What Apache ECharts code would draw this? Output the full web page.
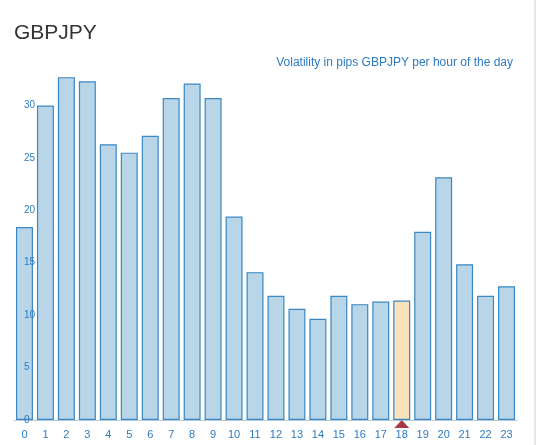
<!DOCTYPE html>
<html>
<head>
<meta charset="utf-8">
<script src="https://cdn.jsdelivr.net/npm/echarts@6/dist/echarts.min.js"></script>
<style>
html,body{margin:0;padding:0;background:#fff;}
#chart{width:537px;height:445px;}
</style>
</head>
<body>
<div id="chart"></div>
<script>
var hours = ['0','1','2','3','4','5','6','7','8','9','10','11','12','13','14','15','16','17','18','19','20','21','22','23'];
var volatility = [18.4, 30.0, 32.7, 32.3, 26.3, 25.5, 27.1, 30.7, 32.1, 30.7, 19.4, 14.1, 11.85, 10.6, 9.65, 11.85, 11.05, 11.3, 11.4, 17.95, 23.15, 14.85, 11.85, 12.75];
var currentHour = '18';
var yTicks = [0, 5, 10, 15, 20, 25, 30];
var titleText = 'GBPJPY';
var subtitleText = 'Volatility in pips GBPJPY per hour of the day';

var chart = echarts.init(document.getElementById('chart'), null, {renderer: 'canvas'});
var font = 'Liberation Sans, Arial, sans-serif';
var blue = '#2e7bbf';

var barData = volatility.map(function (v, i) {
  if (hours[i] === currentHour) {
    return {value: v, itemStyle: {color: '#f9e2bd'}};
  }
  return v;
});

chart.setOption({
  animation: false,
  textStyle: {fontFamily: font},
  title: [
    {text: titleText, left: 9, top: 18, textStyle: {fontSize: 21, fontWeight: 'normal', color: '#333', fontFamily: font}},
    {text: subtitleText, right: 19, top: 52, textStyle: {fontSize: 12, fontWeight: 'normal', color: blue, fontFamily: font}}
  ],
  grid: {left: 14, right: 20, top: 74, bottom: 25, containLabel: false},
  xAxis: {
    type: 'category',
    data: hours,
    axisLine: {lineStyle: {color: '#b8c8d8'}},
    axisTick: {show: false},
    axisLabel: {color: blue, fontSize: 11, margin: 9, fontFamily: font}
  },
  yAxis: {
    type: 'value',
    min: 0,
    max: 33,
    interval: 5,
    z: 10,
    splitLine: {show: false},
    axisLine: {show: false},
    axisTick: {show: false},
    axisLabel: {
      inside: true,
      margin: 10,
      color: blue,
      fontSize: 10,
      fontFamily: font,
      formatter: function (v) { return yTicks.indexOf(v) >= 0 ? String(v) : ''; }
    }
  },
  series: [{
    type: 'bar',
    data: barData,
    barCategoryGap: '19%',
    itemStyle: {color: '#b9d6e8', borderColor: '#3a88c2', borderWidth: 1.2},
    z: 1,
    markPoint: {
      symbol: 'triangle',
      symbolSize: [15, 8],
      symbolOffset: [0, 4],
      itemStyle: {color: '#a8394b'},
      label: {show: false},
      data: [{coord: [currentHour, 0]}]
    }
  }],
  graphic: [{
    type: 'rect',
    shape: {x: 534, y: 0, width: 2, height: 445},
    style: {fill: '#e6e6e6'},
    silent: true
  }]
});
</script>
</body>
</html>
